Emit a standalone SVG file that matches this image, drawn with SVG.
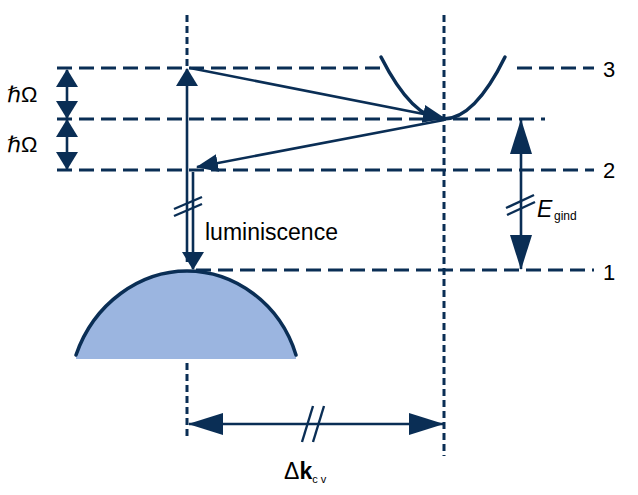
<svg xmlns="http://www.w3.org/2000/svg" width="638" height="495" viewBox="0 0 638 495">
<defs>
<style>
.hd{stroke:#0a2e55;stroke-width:3;stroke-dasharray:15 7;fill:none}
.vd{stroke:#0a2e55;stroke-width:3;stroke-dasharray:7 4;fill:none}
.ln{stroke:#0a2e55;stroke-width:2.6;fill:none}
.cv{stroke:#0a2e55;stroke-width:3.5;fill:none;stroke-linecap:round}
.t{font-family:"Liberation Sans","DejaVu Sans",sans-serif;fill:#000}
</style>
<marker id="as" markerUnits="userSpaceOnUse" markerWidth="18" markerHeight="22" refX="17" refY="11" orient="auto-start-reverse"><path d="M0,0 L18,11 L0,22 z" fill="#0a2e55"/></marker>
<marker id="al" markerUnits="userSpaceOnUse" markerWidth="35" markerHeight="22" refX="34" refY="11" orient="auto-start-reverse"><path d="M0,0 L35,11 L0,22 z" fill="#0a2e55"/></marker>
<marker id="ad" markerUnits="userSpaceOnUse" markerWidth="22" markerHeight="18" refX="21" refY="9" orient="auto"><path d="M0,0 L22,9 L0,18 z" fill="#0a2e55"/></marker>
</defs>

<g id="valence-band">
<path d="M76,359 L76,355 C94,303 140,271 187,271 C234,271 280,303 296,355 L296,359 Z" fill="#9bb5e0"/>
<path class="cv" d="M76,355 C94,303 140,271 187,271 C234,271 280,303 296,355"/>
</g>

<g id="conduction-band">
<path class="cv" d="M381,57 Q444,181 505,57"/>
</g>

<g id="levels">
<line class="hd" x1="57" y1="68" x2="380" y2="68"/>
<line class="hd" x1="517" y1="68" x2="594" y2="68"/>
<line class="hd" x1="57" y1="119" x2="545" y2="119"/>
<line class="hd" x1="57" y1="170" x2="594" y2="170"/>
<line class="hd" x1="196" y1="270" x2="594" y2="270"/>
<line class="vd" x1="187" y1="15" x2="187" y2="68"/>
<line class="vd" x1="187" y1="363" x2="187" y2="440"/>
<line class="vd" x1="444" y1="15" x2="444" y2="456"/>
</g>

<g id="connectors">
<line class="ln" x1="67" y1="70" x2="67" y2="118" marker-start="url(#as)" marker-end="url(#as)"/>
<line class="ln" x1="67" y1="120" x2="67" y2="169" marker-start="url(#as)" marker-end="url(#as)"/>
<line class="ln" x1="187" y1="262" x2="187" y2="69" marker-end="url(#as)"/>
<line class="ln" x1="193" y1="172" x2="193" y2="269" marker-end="url(#as)"/>
<line class="ln" x1="190" y1="68" x2="444" y2="118" marker-end="url(#ad)"/>
<line class="ln" x1="444" y1="120" x2="197" y2="167" marker-end="url(#ad)"/>
<line class="ln" x1="521" y1="120" x2="521" y2="269" marker-start="url(#al)" marker-end="url(#al)"/>
<line class="ln" x1="189" y1="424" x2="443" y2="424" marker-start="url(#al)" marker-end="url(#al)"/>
<g stroke="#0a2e55" stroke-width="2.4">
<line x1="174" y1="209" x2="202" y2="197"/>
<line x1="174" y1="216" x2="202" y2="204"/>
<line x1="506" y1="208" x2="534" y2="195"/>
<line x1="507" y1="215" x2="535" y2="202"/>
<line x1="302" y1="442" x2="313" y2="406"/>
<line x1="313" y1="442" x2="324" y2="406"/>
</g>
</g>

<g id="labels">
<text class="t" x="7" y="102" font-size="22">ℏΩ</text>
<text class="t" x="7" y="152" font-size="22">ℏΩ</text>
<text class="t" x="603" y="77" font-size="22">3</text>
<text class="t" x="603" y="178" font-size="22">2</text>
<text class="t" x="603" y="280" font-size="22">1</text>
<text class="t" x="205" y="240" font-size="23">luminiscence</text>
<text class="t" x="537" y="217" font-size="23" font-style="italic">E</text>
<text class="t" x="554" y="220" font-size="12">gind</text>
<text class="t" x="284" y="479" font-size="23">Δ<tspan font-weight="bold">k</tspan><tspan font-size="11" dy="4">c v</tspan></text>
</g>
</svg>
